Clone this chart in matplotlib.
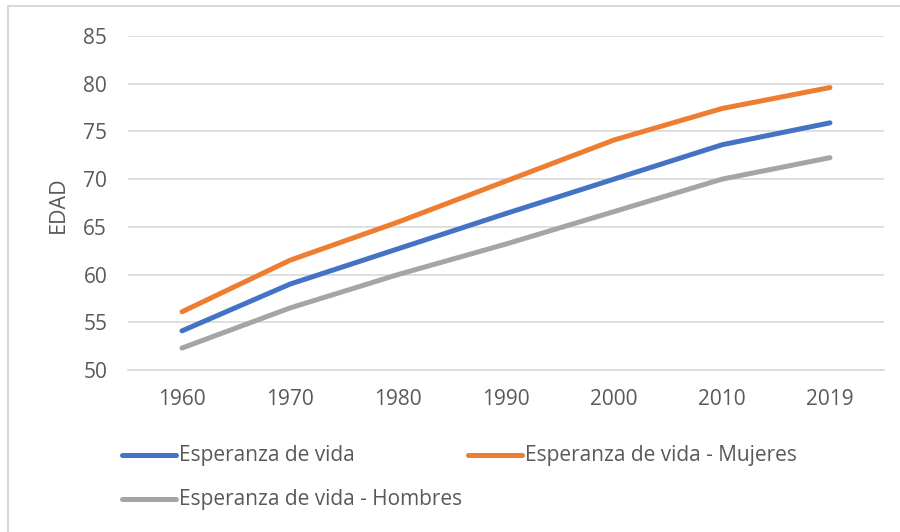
import matplotlib.pyplot as plt
from matplotlib.lines import Line2D

years = ['1960', '1970', '1980', '1990', '2000', '2010', '2019']
total = [54.1, 59.0, 62.7, 66.4, 70.0, 73.6, 75.9]
mujeres = [56.1, 61.5, 65.5, 69.8, 74.1, 77.4, 79.6]
hombres = [52.3, 56.5, 60.0, 63.2, 66.6, 70.0, 72.25]

labels = ['Esperanza de vida', 'Esperanza de vida - Mujeres', 'Esperanza de vida - Hombres']
colors = ['#4472C4', '#ED7D31', '#A5A5A5']

plt.rcParams['font.family'] = ['Open Sans', 'DejaVu Sans']
txt = '#595959'

fig = plt.figure(figsize=(9, 5.32), dpi=100)
ax = fig.add_axes([128/900, 1-370/532, (884-128)/900, (370-36)/532])

x = list(range(len(years)))
for vals, c in zip([total, mujeres, hombres], colors):
    ax.plot(x, vals, color=c, lw=3.6, solid_capstyle='round')

ax.set_xlim(-0.5, len(years)-0.5)
ax.set_ylim(50, 85)
ax.set_yticks(range(50, 86, 5))
ax.set_xticks(x)
ax.set_xticklabels(years)
ax.grid(axis='y', color='#D9D9D9', lw=1.2)
ax.set_axisbelow(True)
for s in ['top', 'right', 'left']:
    ax.spines[s].set_visible(False)
ax.spines['bottom'].set_color('#D9D9D9')
ax.spines['bottom'].set_linewidth(1.2)
ax.tick_params(length=0, labelsize=15, colors=txt)
ax.tick_params(axis='x', pad=14)
ax.tick_params(axis='y', pad=15)
fig.text(58/900, 1-205/532, 'EDAD', fontsize=15.5, color=txt, rotation=90,
         ha='center', va='center')

# outer chart border (only top and left visible)
fig.add_artist(Line2D([8/900, 8/900], [0, 1-6/532], color='#D9D9D9', lw=1.5))
fig.add_artist(Line2D([8/900, 1], [1-6/532, 1-6/532], color='#D9D9D9', lw=1.5))

# legend
pos = [(122, 455), (468, 455), (122, 499)]
for (px, py), lab, c in zip(pos, labels, colors):
    fig.add_artist(Line2D([px/900, (px+54)/900], [1-py/532, 1-py/532], color=c, lw=3.6,
                          solid_capstyle='round'))
    fig.text((px+57)/900, 1-py/532, lab, fontsize=15, color=txt, va='center', ha='left')

fig.savefig('out.png', dpi=100)
